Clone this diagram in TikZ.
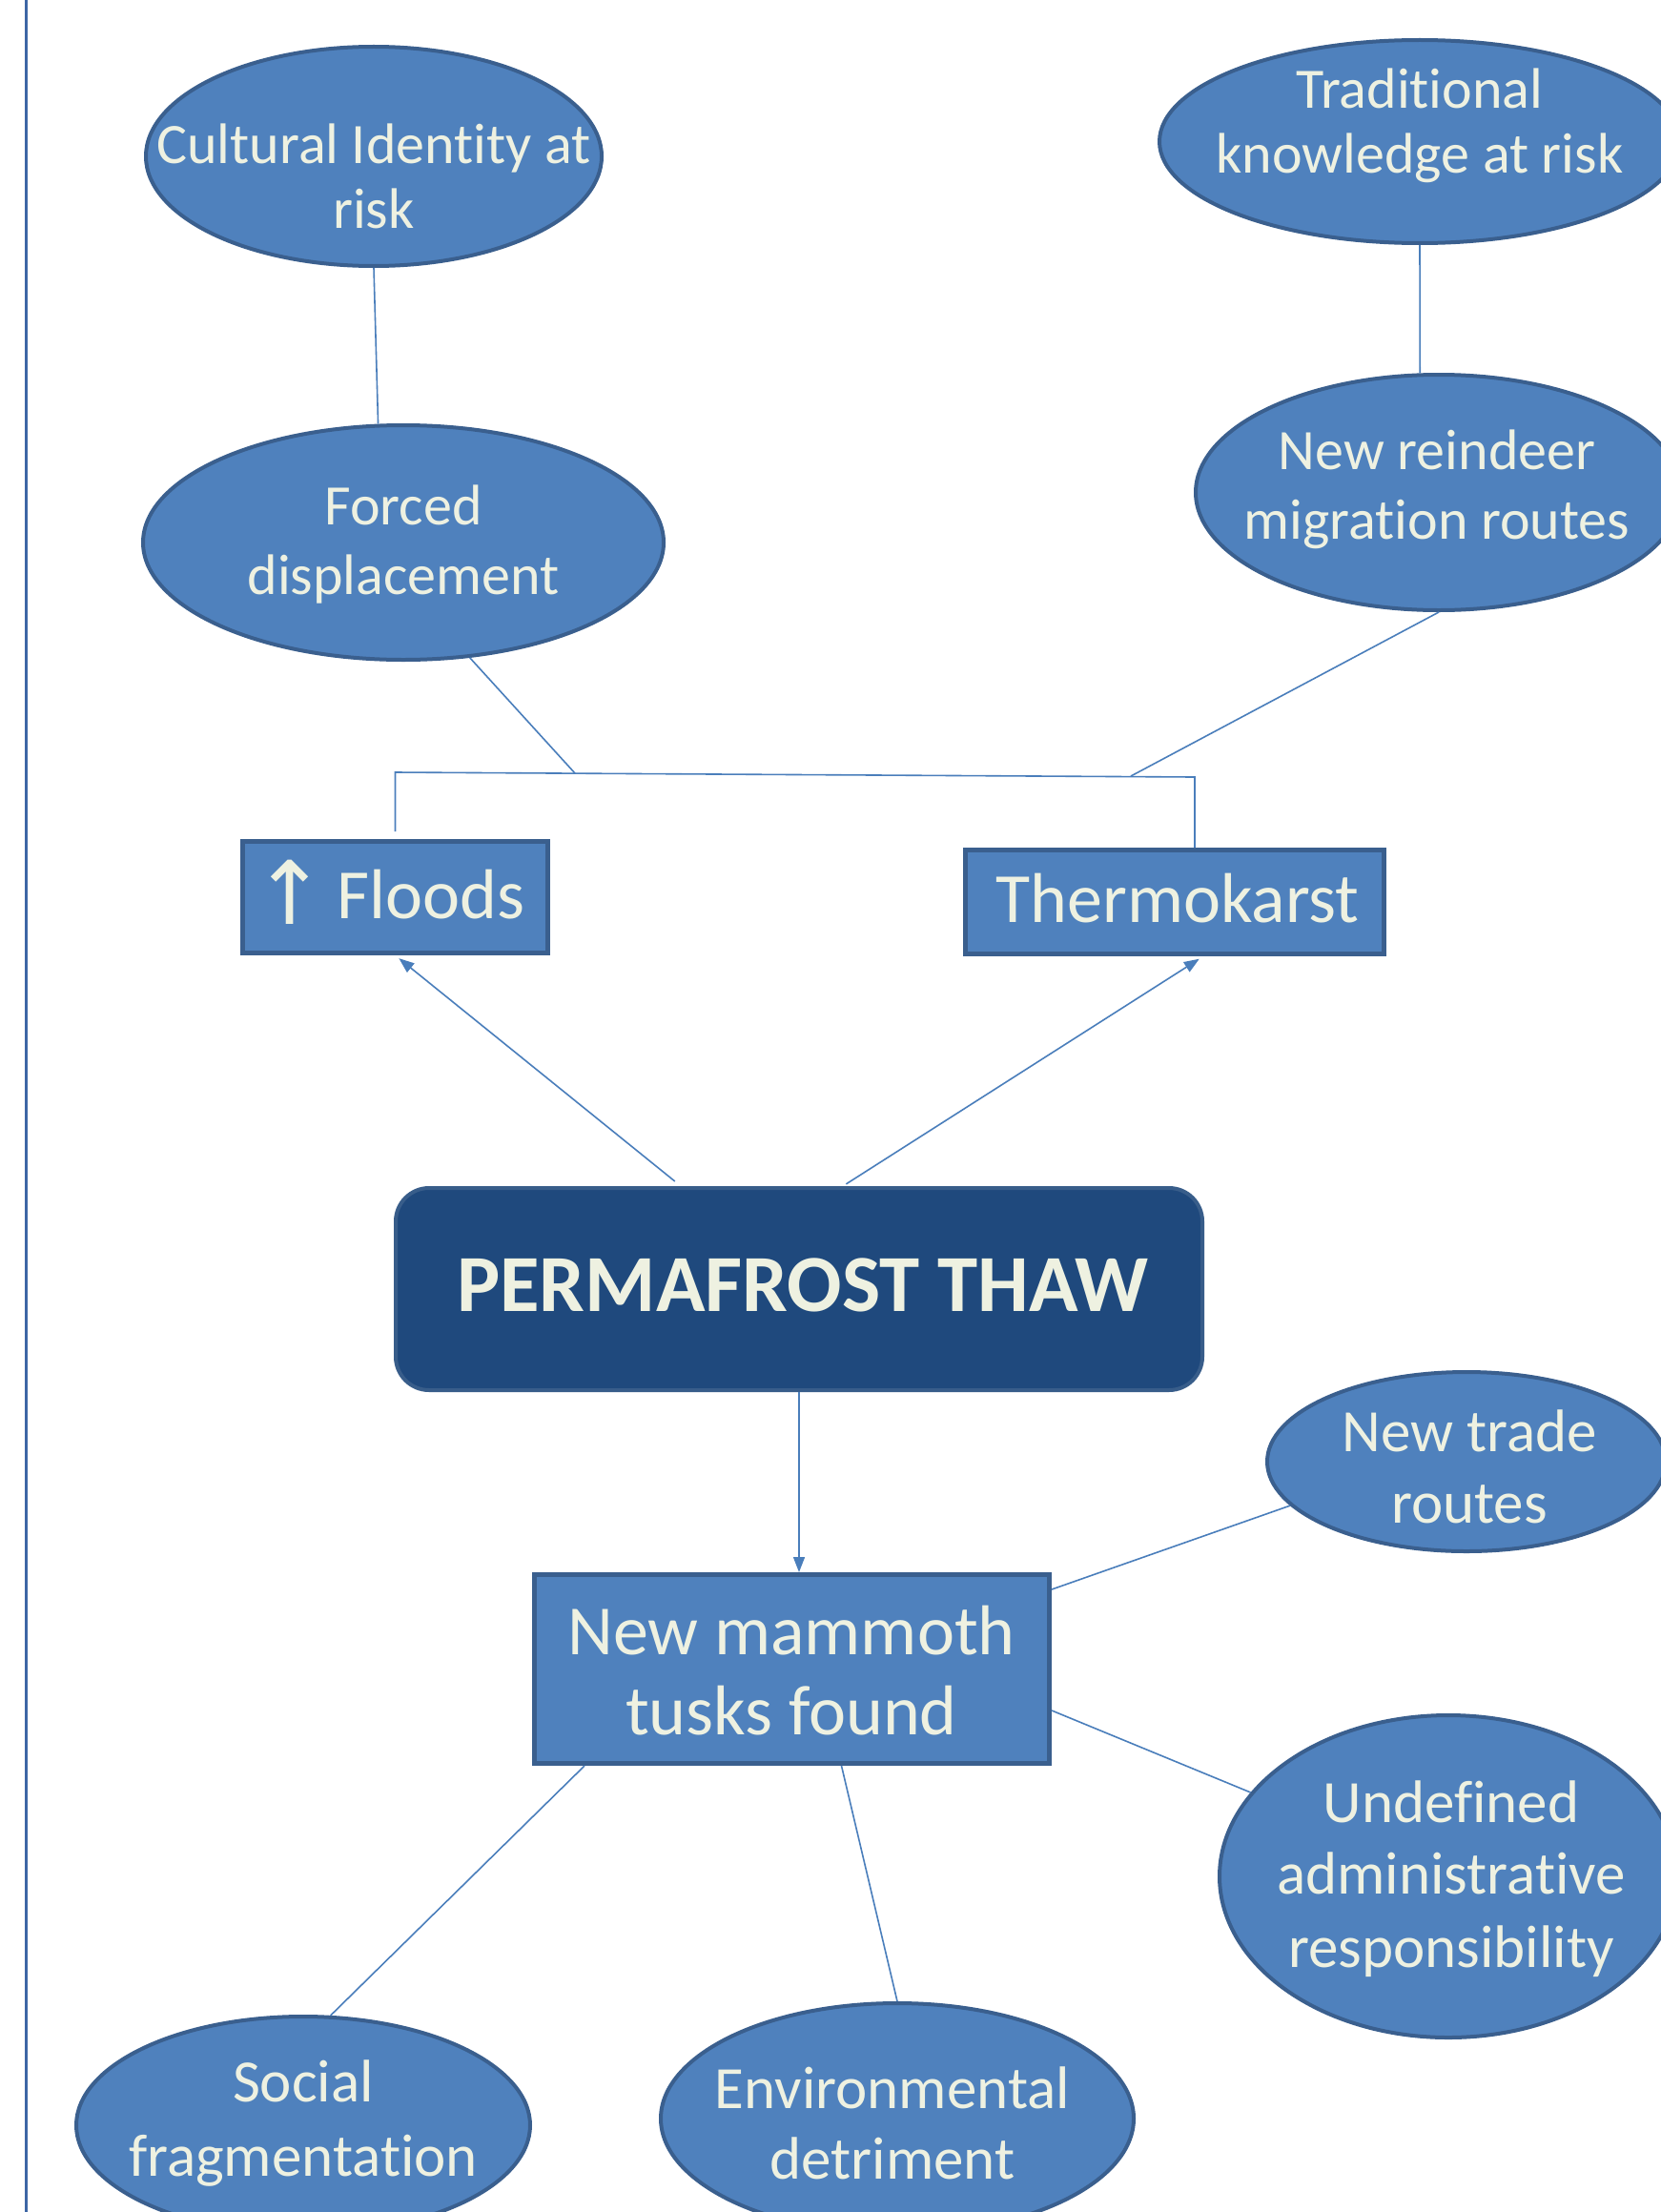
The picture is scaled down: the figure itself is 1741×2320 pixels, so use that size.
\documentclass[tikz,border=0pt]{standalone}
\usepackage{fontspec}
\setmainfont{Carlito}[Ligatures={NoRequired,NoCommon,NoContextual,NoRare}]
\newfontfamily\symfont{DejaVu Sans}
\usetikzlibrary{shapes.geometric,arrows.meta,calc}
\newcommand{\tiSep}{t\kern0pt i}
\definecolor{ellfill}{HTML}{4F81BD}
\definecolor{ellline}{HTML}{3A5F8E}
\definecolor{txt}{HTML}{EEF1E1}
\definecolor{permfill}{HTML}{1F497D}
\definecolor{permline}{HTML}{385D8A}
\definecolor{conn}{HTML}{4A7EBB}
\definecolor{marginc}{HTML}{3D66A5}
\begin{document}
\begin{tikzpicture}[x=1pt,y=-1pt,
  oval/.style={ellipse, draw=ellline, fill=ellfill, line width=4pt, inner sep=0pt},
  boxnode/.style={rectangle, draw=ellline, fill=ellfill, line width=5pt, inner sep=0pt},
  lbl/.style={anchor=base, inner sep=0pt, text=txt, font=\fontsize{60}{72}\selectfont},
  lblb/.style={lbl, font=\fontsize{63}{75}\selectfont},
  boxlbl/.style={lbl, font=\fontsize{74}{88}\selectfont},
  link/.style={draw=conn, line width=1.6pt},
  arr/.style={link, -{Triangle[length=16pt,width=12pt]}},
]
\fill[white] (0,0) rectangle (1741,2320);
\useasboundingbox (0,0) rectangle (1741,2320);
\draw[marginc, line width=3pt] (27,0) -- (27,2320);

% ellipses
\node[oval, minimum width=478pt, minimum height=230pt] (cult) at (392,164) {};
\node[oval, minimum width=546pt, minimum height=213pt] (trad) at (1489,148.5) {};
\node[oval, minimum width=546pt, minimum height=246pt] (forced) at (423,569) {};
\node[oval, minimum width=510pt, minimum height=247pt] (rein) at (1509,516.5) {};
\node[oval, minimum width=418pt, minimum height=188pt] (trade) at (1538,1533) {};
\node[oval, minimum width=480pt, minimum height=338pt] (undef) at (1519,1968) {};
\node[oval, minimum width=476pt, minimum height=228pt] (social) at (318,2229) {};
\node[oval, minimum width=496pt, minimum height=242pt] (env) at (941,2222) {};

% boxes
\node[boxnode, minimum width=320pt, minimum height=117pt] (floods) at (414.5,941) {};
\node[boxnode, minimum width=439pt, minimum height=109pt] (thermo) at (1232,946) {};
\node[boxnode, minimum width=540pt, minimum height=198pt] (mam) at (830.5,1750.5) {};
\node[rectangle, rounded corners=35pt, draw=permline, fill=permfill, line width=4pt,
      minimum width=846pt, minimum height=212pt] (perm) at (838,1352) {};

% labels
\node[lbl] (cultA) at (392,172) {Cultural Iden\tiSep ty at};
\node[lbl] (cultB) at (392,240) {risk};
\node[lbl] (tradA) at (1489,114) {Tradi\tiSep onal};
\node[lbl] (tradB) at (1489,182) {knowledge at risk};
\node[lbl] (forcedA) at (423,550) {Forced};
\node[lbl] (forcedB) at (423,623) {displacement};
\node[lbl] (reinA) at (1507,492.5) {New reindeer};
\node[lbl] (reinB) at (1507,565) {migra\tiSep on routes};
\node[lblb] (tradeA) at (1541,1522) {New trade};
\node[lblb] (tradeB) at (1541,1597) {routes};
\node[lblb] (undefA) at (1522,1911) {Undefined};
\node[lblb] (undefB) at (1522,1986) {administra\tiSep ve};
\node[lblb] (undefC) at (1522,2063) {responsibility};
\node[lblb] (socialA) at (318,2204) {Social};
\node[lblb] (socialB) at (318,2282) {fragmenta\tiSep on};
\node[lblb] (envA) at (936,2211) {Environmental};
\node[lblb] (envB) at (936,2285) {detriment};
\node[boxlbl] (mamA) at (830,1735) {New mammoth};
\node[boxlbl] (mamB) at (830,1819) {tusks found};
\node[boxlbl] (floodsT) at (408,963) {{\symfont\fontsize{92}{100}\selectfont\raisebox{-6pt}{↑}}\kern-6pt\ Floods};
\node[boxlbl] (thermoT) at (1235,967) {Thermokarst};
\node[lbl, font=\fontsize{85}{100}\selectfont\bfseries] (permT) at (842,1375) {PERMAFROST THAW};

% connectors
\coordinate (hl) at (414,810);
\coordinate (hr) at (1253,815);
\coordinate (j1) at (603,811);
\coordinate (j2) at (1186,814);
\draw[link] (cult.south) -- (forced.102.6);
\draw[link] (trad.south) -- (rein.99);
\draw[link] ([yshift=8pt]floods.north) -- (floods.north |- hl) -- (hr) -- (hr |- thermo.north);
\draw[link] (forced.-60.7) -- (j1);
\draw[link] (rein.south) -- (j2);
\draw[arr, shorten <=8pt, shorten >=5pt] ([xshift=-124pt]perm.north) -- (floods.south);
\draw[arr, shorten <=4pt, shorten >=5pt] ([xshift=46pt]perm.north) -- ([xshift=30pt]thermo.south);
\draw[arr] (perm.south) -- (perm.south |- mam.north);
\draw[link] ([yshift=-18pt]mam.north east) -- (trade.194.5);
\draw[link] ([yshift=58pt]mam.south east) -- (undef.157.2);
\draw[link] ([xshift=55pt]mam.south west) -- (social.76.1);
\draw[link] ([xshift=52pt]mam.south) -- (env.north);
\end{tikzpicture}
\end{document}
